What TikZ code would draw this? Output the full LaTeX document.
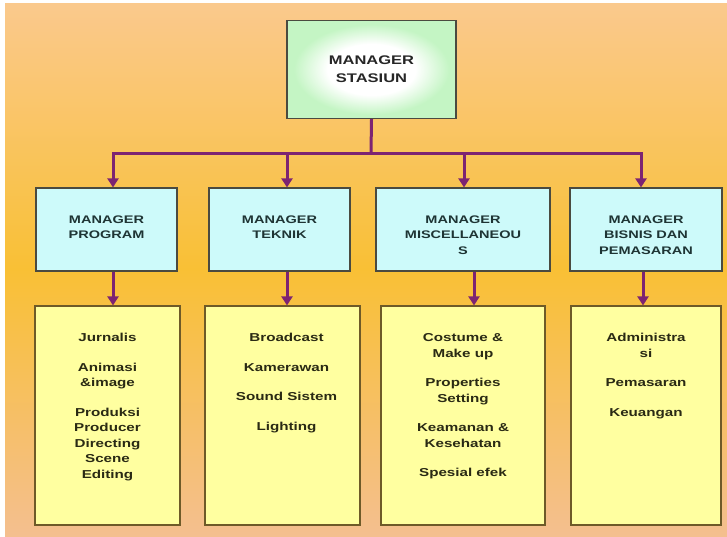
\documentclass[tikz,border=0pt]{standalone}
\usepackage{fontspec}
\setmainfont{Liberation Sans}
\newfontfamily\widesans[FakeStretch=1.32]{Liberation Sans}
\usetikzlibrary{arrows.meta}

\definecolor{bgtop}{HTML}{FAC98D}
\definecolor{bgmid}{HTML}{F9C035}
\definecolor{bgbot}{HTML}{F4BF8F}
\definecolor{headgreen}{HTML}{C4F5C4}
\definecolor{midcyan}{HTML}{CDFAFA}
\definecolor{lowyellow}{HTML}{FFFFA0}
\definecolor{wire}{HTML}{7D2472}
\definecolor{framegray}{HTML}{4A4A40}
\definecolor{frameolive}{HTML}{6E5A28}
\definecolor{inkslate}{HTML}{1E3434}
\definecolor{inkdark}{HTML}{2A2A14}

% soft white core fading into green towards the frame
\pgfdeclareradialshading{headglow}{\pgfpoint{0bp}{0bp}}{color(0bp)=(white); color(13bp)=(white); color(23bp)=(headgreen); color(50bp)=(headgreen)}

\begin{document}
\begin{tikzpicture}[x=1pt,y=-1pt,
  headbox/.style={draw=framegray, line width=1.2pt, shading=headglow,
    minimum width=169pt, minimum height=98pt, inner sep=0pt, align=center,
    text=black!85, font=\widesans\bfseries\fontsize{12.5}{18}\selectfont},
  midbox/.style={draw=framegray, line width=1.2pt, fill=midcyan,
    minimum height=83pt, inner sep=0pt},
  midtext/.style={anchor=north, yshift=-28pt, inner sep=0pt, align=center,
    text=inkslate, font=\widesans\bfseries\fontsize{11}{15.5}\selectfont},
  lowbox/.style={draw=frameolive, line width=1.2pt, fill=lowyellow,
    minimum height=219pt, inner sep=0pt},
  lowtext/.style={anchor=north, yshift=-28pt, inner sep=0pt, align=center,
    text=inkdark, font=\widesans\bfseries\fontsize{11.5}{15.5}\selectfont},
  bus/.style={draw=wire, line width=3pt},
  link/.style={draw=wire, line width=3pt, -{Triangle[length=9pt,width=11pt]}}
]
\useasboundingbox (0,0) rectangle (727,536);

% backdrop: peach at top and bottom, golden band in the middle
\fill[white] (0,0) rectangle (727,536);
\shade[top color=bgtop, bottom color=bgbot, middle color=bgmid] (5,3) rectangle (727,536);

% station manager
\node[headbox] (head) at (371.5,69.5) {MANAGER\\STASIUN};

% department managers
\node[midbox, minimum width=141pt, label={[midtext]north:{MANAGER\\PROGRAM}}] (prog) at (106.5,229.5) {};
\node[midbox, minimum width=141pt, label={[midtext]north:{MANAGER\\TEKNIK}}] (tek) at (279.5,229.5) {};
\node[midbox, minimum width=174pt, label={[midtext]north:{MANAGER\\MISCELLANEOU\\S}}] (misc) at (463,229.5) {};
\node[midbox, minimum width=152pt, label={[midtext]north:{MANAGER\\BISNIS DAN\\PEMASARAN}}] (bis) at (646,229.5) {};

% sections
\node[lowbox, minimum width=145pt, label={[lowtext]north:{Jurnalis\\[14pt]Animasi\\\&image\\[14pt]Produksi\\Producer\\Directing\\Scene\\Editing}}] (jur) at (107.5,415.5) {};
\node[lowbox, minimum width=155pt, label={[lowtext, xshift=4pt]north:{Broadcast\\[14pt]Kamerawan\\[14pt]Sound Sistem\\[14pt]Lighting}}] (brd) at (282.5,415.5) {};
\node[lowbox, minimum width=164pt, label={[lowtext]north:{Costume \&\\Make up\\[14pt]Properties\\Setting\\[14pt]Keamanan \&\\Kesehatan\\[14pt]Spesial efek}}] (cos) at (463,415.5) {};
\node[lowbox, minimum width=150pt, label={[lowtext]north:{Administra\\si\\[14pt]Pemasaran\\[14pt]Keuangan}}] (adm) at (646,415.5) {};

% distribution bus
\coordinate (hub) at (371,153);
\coordinate (j1) at (113,153);
\coordinate (j2) at (287,153);
\coordinate (j3) at (464,153);
\coordinate (j4) at (641,153);
\draw[bus] (head.south) -- (hub);
\draw[bus, line cap=rect] (j1) -- (j4);
\draw[link] (j1) -- (j1 |- prog.north);
\draw[link] (j2) -- (j2 |- tek.north);
\draw[link] (j3) -- (j3 |- misc.north);
\draw[link] (j4) -- (j4 |- bis.north);

% drops to the sections
\coordinate (d1) at (113,290);
\coordinate (d2) at (287,290);
\coordinate (d3) at (474,290);
\coordinate (d4) at (643,290);
\draw[link] (prog.south -| d1) -- (jur.north -| d1);
\draw[link] (tek.south -| d2) -- (brd.north -| d2);
\draw[link] (misc.south -| d3) -- (cos.north -| d3);
\draw[link] (bis.south -| d4) -- (adm.north -| d4);
\end{tikzpicture}
\end{document}
